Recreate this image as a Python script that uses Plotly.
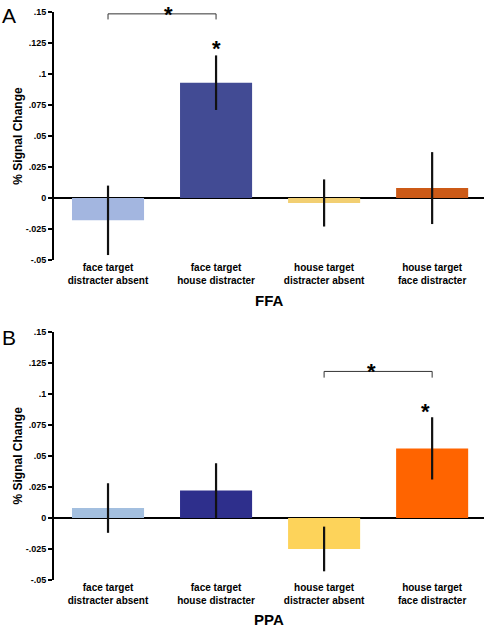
import plotly.graph_objects as go

# ---- data ----
categories = ["face target<br>distracter absent", "face target<br>house distracter",
              "house target<br>distracter absent", "house target<br>face distracter"]
ffa_values = [-0.018, 0.093, -0.004, 0.008]
ffa_errors = [0.028, 0.022, 0.019, 0.029]
ppa_values = [0.008, 0.022, -0.025, 0.056]
ppa_errors = [0.020, 0.022, 0.018, 0.025]
ffa_colors = ["#a3b6e0", "#424b94", "#f2cf72", "#cc5a17"]
ppa_colors = ["#a3bfdf", "#2e2f8c", "#fdd35a", "#ff6400"]
tick_vals = [-0.05, -0.025, 0, 0.025, 0.05, 0.075, 0.1, 0.125, 0.15]
tick_text = ["-.05", "-.025", "0", ".025", ".05", ".075", ".1", ".125", ".15"]
# significance: bracket (cat a, cat b, level, leg end) and star positions (cat, level)
ffa_bracket = (0, 1, 0.1485, 0.144)
ffa_stars = [(0.5, 0.155), (1, 0.126)]
ppa_bracket = (2, 3, 0.118, 0.113)
ppa_stars = [(2.5, 0.123), (3, 0.091)]

FONT = "Liberation Sans"
XR = [-0.5, 3.48]
YR = [-0.05, 0.15]
H = 628

fig = go.Figure()
idx = list(range(len(categories)))
for vals, errs, cols, xa, ya in [(ffa_values, ffa_errors, ffa_colors, "x", "y"),
                                 (ppa_values, ppa_errors, ppa_colors, "x2", "y2")]:
    fig.add_trace(go.Bar(
        x=idx, y=vals, marker=dict(color=cols, line=dict(width=0)), width=0.667,
        error_y=dict(type="data", array=errs, visible=True, color="#111111",
                     thickness=2.2, width=0),
        xaxis=xa, yaxis=ya, showlegend=False))

def xf(c):
    return (c - XR[0]) / (XR[1] - XR[0])

def yf(v):
    return (v - YR[0]) / (YR[1] - YR[0])

domA = [1 - 260 / H, 1 - 12 / H]
domB = [1 - 580 / H, 1 - 331.7 / H]

shapes = []
annotations = []
for br, stars, xs, ys, dom in [(ffa_bracket, ffa_stars, "x", "y", domA),
                               (ppa_bracket, ppa_stars, "x2", "y2", domB)]:
    a, b, top, leg = br
    for x0, y0, x1, y1 in [(a, top, b, top), (a, top, a, leg), (b, top, b, leg)]:
        shapes.append(dict(type="line", xref=xs + " domain", yref=ys + " domain",
                           x0=xf(x0), y0=yf(y0), x1=xf(x1), y1=yf(y1),
                           line=dict(color="#333333", width=1)))
    for cx, cy in stars:
        # star glyph centre sits ~8px below the top of its text box
        ypaper = dom[0] + yf(cy) * (dom[1] - dom[0]) + 8 / H
        annotations.append(dict(text="*", xref=xs + " domain", yref="paper",
                                x=xf(cx), y=min(ypaper, 1.0), showarrow=False,
                                yanchor="top",
                                font=dict(family=FONT, size=22, color="black", weight="bold")))

annotations += [
    dict(text="A", xref="paper", yref="paper", x=-54 / 430, y=1 - 15 / H, xanchor="left",
         yanchor="middle", showarrow=False, font=dict(family=FONT, size=21, color="black")),
    dict(text="B", xref="paper", yref="paper", x=-54 / 430, y=1 - 337 / H, xanchor="left",
         yanchor="middle", showarrow=False, font=dict(family=FONT, size=21, color="black")),
    dict(text="FFA", xref="paper", yref="paper", x=0.5, y=1 - 301 / H, xanchor="center",
         yanchor="middle", showarrow=False,
         font=dict(family=FONT, size=15, color="black", weight="bold")),
    dict(text="PPA", xref="paper", yref="paper", x=0.5, y=1 - 619 / H, xanchor="center",
         yanchor="middle", showarrow=False,
         font=dict(family=FONT, size=15, color="black", weight="bold")),
]

xaxis_common = dict(range=XR, tickmode="array", tickvals=idx, ticktext=categories,
                    showline=False, showgrid=False, zeroline=False, ticks="",
                    automargin=False,
                    tickfont=dict(family=FONT, size=10, color="black", weight="bold"))
yaxis_common = dict(range=YR, tickmode="array", tickvals=tick_vals, ticktext=tick_text,
                    showline=True, linecolor="black", linewidth=2, ticks="outside",
                    ticklen=4, tickwidth=1.5, tickcolor="black", showgrid=False,
                    zeroline=True, zerolinecolor="black", zerolinewidth=1.5,
                    automargin=False,
                    tickfont=dict(family=FONT, size=9, color="black", weight="bold"),
                    title=dict(text="% Signal Change", standoff=0,
                               font=dict(family=FONT, size=12, color="black", weight="bold")))

fig.update_layout(
    width=486, height=628,
    margin=dict(l=54, r=2, t=0, b=0),
    plot_bgcolor="white", paper_bgcolor="white",
    xaxis=dict(domain=[0, 1], anchor="y", **xaxis_common),
    yaxis=dict(domain=domA, anchor="x", **yaxis_common),
    xaxis2=dict(domain=[0, 1], anchor="y2", **xaxis_common),
    yaxis2=dict(domain=domB, anchor="x2", **yaxis_common),
    shapes=shapes, annotations=annotations,
    bargap=0.333,
)

fig.write_html("out.html", config={"displayModeBar": False},
               post_script="document.body.style.margin='0';document.body.style.overflow='hidden';")
